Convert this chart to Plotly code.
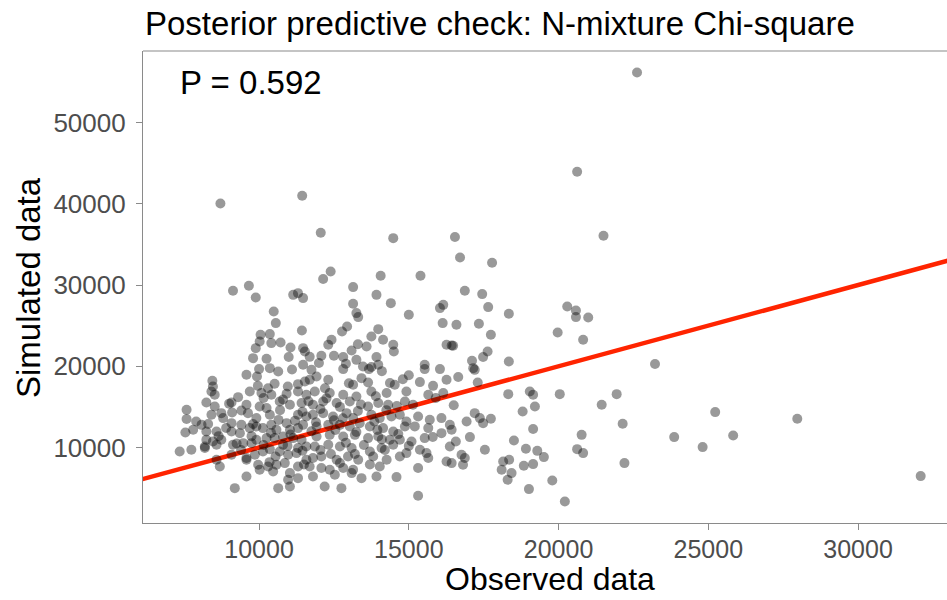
import plotly.graph_objects as go

# Observed vs simulated Chi-square discrepancy
observed = [
    9130, 9660, 9890, 11140, 11300, 11470, 10490, 10560, 11430, 10050,
    10360, 10020, 10410, 10720, 11050, 11470, 11530, 9890, 9800, 10250,
    10990, 10000, 10360, 10640, 9930, 9580, 11470, 8440, 8460, 9960,
    10520, 10960, 11530, 13140, 13920, 14400, 13140, 13250, 13310, 15000,
    16040, 16150, 16130, 12940, 12770, 13980, 13750, 14140, 12420, 12310,
    13590, 14480, 14500, 16260, 12080, 12500, 12810, 13090, 13250, 13920,
    13980, 11690, 13470, 13670, 13750, 12810, 15530, 15530, 16040, 11750,
    11920, 12310, 13420, 13140, 13640, 14370, 14530, 15370, 15810, 16260,
    11690, 8410, 8520, 9690, 10080, 10410, 10920, 11300, 11580, 8240,
    8520, 9080, 7580, 7580, 7540, 8740, 8410, 8800, 9580, 9410,
    9630, 10020, 10250, 9910, 10360, 10690, 11030, 11420, 11300, 11580,
    8080, 7800, 8240, 8580, 9080, 9410, 9690, 9080, 9360, 9910,
    10130, 10410, 10580, 10920, 11030, 11300, 11470, 8240, 8460, 8740,
    8190, 8580, 9130, 9470, 9750, 9910, 10250, 10520, 10800, 11140,
    11420, 10800, 11300, 11580, 7350, 7740, 8190, 8580, 9080, 9580,
    9860, 10130, 10360, 10690, 10970, 11250, 11580, 8690, 9580, 9970,
    10300, 10580, 10860, 11300, 10020, 10470, 11030, 9580, 10970, 11300,
    9190, 10640, 11030, 11860, 12360, 12810, 13250, 13750, 14260, 14920,
    15650, 16150, 11800, 12140, 12590, 13030, 13640, 13980, 14310, 14870,
    15140, 11800, 12140, 12470, 12920, 13140, 13750, 14030, 14420, 14700,
    14920, 15310, 15700, 16090, 11920, 12310, 12700, 13030, 13360, 13700,
    14140, 14480, 14870, 15650, 16090, 11920, 12360, 12810, 13200, 13640,
    13980, 14370, 14700, 15090, 15530, 11860, 12310, 12700, 13090, 13700,
    14090, 14480, 14920, 15370, 15590, 16260, 15650, 12080, 12590, 12970,
    13310, 13810, 14260, 14030, 11690, 12080, 12360, 12810, 13140, 15310,
    11800, 12530, 13090, 13420, 13920, 14590, 12190, 12750, 15310,
    16870, 17450, 17650, 18340, 20290, 20580, 20580, 20990, 19970, 20820,
    16590, 17340, 17740, 16430, 16480, 17630, 17480, 17110, 17150, 17200,
    18340, 16650, 17300, 18320, 19040, 19150, 20040, 21940, 19210, 18800,
    21440, 17200, 17370, 17480, 16930, 17740, 16370, 16430, 19150,
    17040, 16570, 16370, 17540, 18510, 20770, 18910, 19290, 19510, 20620,
    20820, 16760, 16870, 16810, 16430, 18150, 18350, 18100, 18430, 18300,
    18840, 19150, 19790, 19010, 20210, 22620, 23220,
    22140, 25230, 23860, 25830, 24810, 27970, 22200, 32090,
    8710, 11440, 12060, 14480, 16540, 16710, 17780, 20620, 21500, 12390, 12140, 14060, 15390,
    10150, 10800, 11650, 12250, 12700, 13400, 13900, 14600, 10650, 11200,
    11900, 12500, 13300, 13850, 14250, 9750, 10400, 11050, 11750, 12550,
    13250, 13950, 14650, 10150, 10950, 11450, 12050, 12900, 13500, 14200,
    9400, 10550, 11800, 12400, 13200, 14700, 10350, 11500, 12700, 13700,
    9800, 8900, 8650, 9250, 10700, 11450, 12050, 12800, 15200, 15800,
    15000, 14100, 12200, 13000, 11300, 10300, 9300, 9000, 14800, 16500,
    15900, 11100, 12000, 12900, 13300, 14100, 15000, 9100, 7900, 8300,
]

simulated = [
    29290, 29900, 28460, 28790, 29000, 28390, 26740, 25310, 24400, 23870,
    23960, 23050, 22850, 22920, 22310, 22230, 21820, 22230, 21000, 20920,
    21130, 19650, 19770, 19350, 18740, 18950, 20180, 18210, 17510, 17590,
    17840, 17510, 18120, 29740, 28790, 27770, 27690, 26540, 26050, 26330,
    27160, 27560, 25310, 24890, 24280, 24570, 23660, 23260, 23260, 22640,
    22430, 22640, 21820, 22640, 21290, 21290, 21130, 21940, 20790, 21130,
    20180, 21160, 19970, 19650, 19900, 19650, 20180, 19650, 19650, 19560,
    18740, 18330, 18540, 17720, 18000, 17930, 17720, 18050, 17590, 18330,
    18330, 16890, 16490, 16890, 16700, 16490, 16610, 16890, 16490, 15540,
    15050, 15540, 14640, 13500, 11850, 14230, 14030, 13620, 15260, 14550,
    14230, 15050, 14850, 13620, 14030, 15660, 15260, 15470, 14030, 13820,
    12790, 12180, 11970, 11970, 13000, 12790, 12390, 11970, 11770, 12590,
    12390, 12790, 12180, 13000, 12180, 12390, 12790, 10950, 10740, 10950,
    10120, 10330, 10330, 10540, 10540, 10950, 11160, 11160, 11350, 11160,
    10950, 10330, 9930, 10120, 9510, 9720, 9930, 8490, 9100, 8700,
    9100, 9510, 9800, 9510, 9100, 9310, 8490, 7660, 8490, 7870,
    7660, 7870, 8080, 7660, 7260, 7050, 6850, 6430, 6030, 6230,
    5000, 5000, 5200, 16890, 16700, 16490, 16280, 16890, 16700, 16890,
    16490, 16700, 15260, 15660, 15470, 15660, 15050, 15470, 15260, 15660,
    15260, 14030, 14230, 13820, 14230, 13620, 14030, 13620, 13820, 14030,
    13200, 13820, 13410, 13620, 12590, 12790, 12790, 12590, 13000, 12590,
    12390, 11970, 12590, 12390, 11770, 11350, 11560, 11350, 11560, 11160,
    11350, 10950, 10950, 10740, 11160, 10120, 10330, 10120, 9930, 9510,
    9930, 10330, 9310, 9720, 9310, 8280, 8700, 8890, 8490, 8890,
    8490, 8890, 8490, 7660, 7660, 7470, 7260, 7470, 7260, 7470,
    6430, 6640, 6850, 6230, 6430, 6360, 5200, 5000, 4060,
    29290, 28880, 27280, 26460, 27350, 26860, 26050, 26000, 24150, 23260,
    25100, 25230, 23870, 22550, 22520, 21820, 21130, 20670, 19770, 19560,
    20590, 18670, 18000, 16570, 16890, 16490, 16570, 16570, 15050, 14430,
    15260, 14230, 13620, 13000, 13200, 13530, 12790, 12180, 12270,
    11280, 10740, 10120, 9720, 10860, 11560, 9840, 9590, 8820, 9800,
    9310, 9100, 8700, 7870, 8080, 8280, 8490, 7260, 6850, 6030,
    7750, 7960, 5940, 4880, 3350, 56160, 20270,
    12920, 14360, 11280, 11480, 10050, 13530, 8080, 6480,
    40030, 40980, 36430, 35770, 35900, 33390, 32730, 43930, 36060, 31660, 30730, 31130, 31130,
    16100, 15900, 15700, 16050, 15000, 15300, 16300, 15100, 13400, 13300,
    13100, 13350, 14500, 13200, 14600, 11400, 11800, 11600, 12000, 12150,
    11900, 12150, 11650, 10300, 10200, 9600, 9700, 10600, 10300, 9700,
    9700, 8900, 8700, 9200, 9200, 8900, 8200, 7900, 8100, 7900,
    12900, 12400, 11400, 10500, 14600, 14400, 14750, 13600, 12600, 11300,
    10200, 11000, 17300, 17900, 17800, 17300, 16200, 15400, 18400, 15200,
    16100, 19600, 20400, 20300, 22700, 19400, 18900, 14300, 13200, 12900,
]

assert len(observed) == len(simulated), (len(observed), len(simulated))

# 1:1 reference line
ref_x = [5000, 35000]
ref_y = [5000, 35000]

x_ticks = [10000, 15000, 20000, 25000, 30000]
y_ticks = [10000, 20000, 30000, 40000, 50000]

title_text = "Posterior predictive check: N-mixture Chi-square"
p_label = "P = 0.592"
x_title = "Observed data"
y_title = "Simulated data"

FONT = "Liberation Sans, Arial, Helvetica, sans-serif"
AXIS_COL = "#8a8a8a"
W, H = 947, 600
L, R, T, B = 143, 0, 51, 77
PW, PH = W - L - R, H - T - B

fig = go.Figure()
fig.add_trace(go.Scatter(
    x=ref_x, y=ref_y, mode="lines",
    line=dict(color="#ff2400", width=4.5),
    hoverinfo="skip", showlegend=False,
))
fig.add_trace(go.Scatter(
    x=observed, y=simulated, mode="markers",
    marker=dict(size=10, color="rgba(0,0,0,0.4)", line=dict(width=0)),
    showlegend=False,
))

fig.update_layout(
    width=W, height=H,
    margin=dict(l=L, r=R, t=T, b=B),
    paper_bgcolor="white", plot_bgcolor="white",
    font=dict(family=FONT, color="black"),
    title=dict(text=title_text, x=145 / W, xanchor="left", xref="container",
               y=1 - 23 / H, yanchor="middle", yref="container",
               font=dict(size=33, color="black", family=FONT)),
    showlegend=False,
)

fig.update_xaxes(
    range=[6125, 32969], tickvals=x_ticks, tickformat="d",
    ticks="outside", ticklen=6, tickwidth=1.2, tickcolor=AXIS_COL,
    showline=True, linecolor=AXIS_COL, linewidth=1.2, mirror=False,
    showgrid=False, zeroline=False, ticklabelstandoff=-2,
    tickfont=dict(size=25, color="#4d4d4d", family=FONT),
)
fig.update_yaxes(
    range=[710, 58800], tickvals=y_ticks, tickformat="d",
    ticks="outside", ticklen=6, tickwidth=1.2, tickcolor=AXIS_COL,
    showline=True, linecolor=AXIS_COL, linewidth=1.2, mirror=False,
    showgrid=False, zeroline=False, ticklabelstandoff=5,
    tickfont=dict(size=26, color="#4d4d4d", family=FONT),
)

# top border of the panel
fig.add_shape(type="line", xref="paper", yref="paper", x0=0, x1=1, y0=1, y1=1,
              line=dict(color=AXIS_COL, width=1.2))

# axis titles
fig.add_annotation(text=x_title, xref="paper", yref="paper",
                   x=(550 - L) / PW, y=-(579 - (T + PH)) / PH,
                   xanchor="center", yanchor="middle", showarrow=False,
                   font=dict(size=32, color="black", family=FONT))
fig.add_annotation(text=y_title, xref="paper", yref="paper",
                   x=-(L - 28) / PW, y=((T + PH) - 288) / PH, textangle=-90,
                   xanchor="center", yanchor="middle", showarrow=False,
                   font=dict(size=33, color="black", family=FONT))

fig.add_annotation(text=p_label, xref="paper", yref="paper",
                   x=(178 - L) / PW, y=((T + PH) - 82) / PH,
                   xanchor="left", yanchor="middle", showarrow=False,
                   font=dict(size=33, color="black", family=FONT))

fig.write_html("out.html", config={"displayModeBar": False},
               post_script="document.body.style.margin='0px';")
